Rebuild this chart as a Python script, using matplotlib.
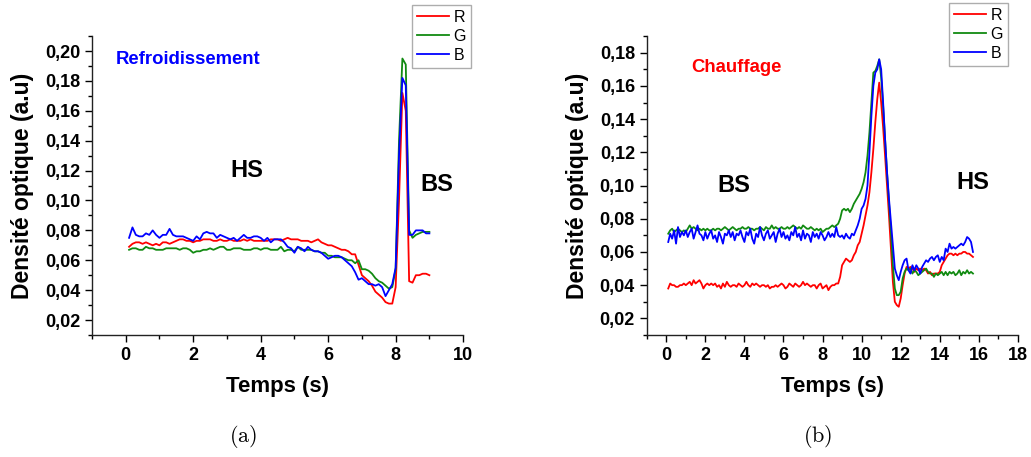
import numpy as np
import matplotlib
matplotlib.use('Agg')
import matplotlib.pyplot as plt
from matplotlib.ticker import FuncFormatter, MultipleLocator

plt.rcParams['font.family'] = ['Liberation Sans', 'DejaVu Sans']
plt.rcParams['mathtext.fontset'] = 'cm'

# (a) refroidissement : t = 0.1 ... 9.0 s
t_a = np.round(np.linspace(0.1, 9.0, 90), 1)
red_a = [0.069, 0.071, 0.072, 0.072, 0.071, 0.072, 0.071, 0.070, 0.071, 0.070,
         0.072, 0.072, 0.071, 0.072, 0.073, 0.074, 0.074, 0.073, 0.073, 0.072,
         0.073, 0.073, 0.074, 0.074, 0.074, 0.073, 0.073, 0.074, 0.073, 0.073,
         0.074, 0.073, 0.073, 0.073, 0.074, 0.073, 0.074, 0.073, 0.073, 0.073,
         0.073, 0.073, 0.074, 0.074, 0.074, 0.073, 0.074, 0.075, 0.074, 0.074,
         0.074, 0.073, 0.073, 0.073, 0.072, 0.073, 0.074, 0.072, 0.071, 0.070,
         0.070, 0.069, 0.068, 0.067, 0.067, 0.066, 0.064, 0.064, 0.057, 0.050,
         0.048, 0.046, 0.043, 0.039, 0.037, 0.035, 0.032, 0.031, 0.031, 0.042,
         0.100, 0.172, 0.160, 0.046, 0.045, 0.050, 0.050, 0.051, 0.051, 0.050]
green_a = [0.067, 0.068, 0.068, 0.067, 0.067, 0.069, 0.068, 0.068, 0.067, 0.067,
           0.067, 0.068, 0.068, 0.068, 0.068, 0.067, 0.068, 0.068, 0.067, 0.065,
           0.066, 0.066, 0.067, 0.067, 0.068, 0.067, 0.068, 0.069, 0.069, 0.067,
           0.067, 0.068, 0.068, 0.068, 0.067, 0.067, 0.067, 0.068, 0.068, 0.067,
           0.068, 0.068, 0.067, 0.067, 0.067, 0.069, 0.066, 0.067, 0.067, 0.066,
           0.069, 0.067, 0.067, 0.067, 0.067, 0.066, 0.066, 0.065, 0.065, 0.063,
           0.063, 0.062, 0.062, 0.062, 0.061, 0.060, 0.060, 0.058, 0.060, 0.054,
           0.054, 0.053, 0.051, 0.048, 0.046, 0.045, 0.043, 0.041, 0.042, 0.054,
           0.140, 0.195, 0.191, 0.080, 0.075, 0.077, 0.078, 0.079, 0.079, 0.079]
blue_a = [0.075, 0.082, 0.077, 0.076, 0.076, 0.078, 0.077, 0.080, 0.077, 0.075,
          0.077, 0.077, 0.081, 0.077, 0.076, 0.076, 0.076, 0.075, 0.074, 0.073,
          0.076, 0.074, 0.078, 0.079, 0.078, 0.078, 0.075, 0.077, 0.076, 0.075,
          0.074, 0.075, 0.073, 0.075, 0.077, 0.075, 0.075, 0.076, 0.076, 0.075,
          0.073, 0.075, 0.072, 0.074, 0.074, 0.074, 0.072, 0.069, 0.068, 0.065,
          0.069, 0.068, 0.066, 0.069, 0.067, 0.066, 0.066, 0.065, 0.063, 0.061,
          0.062, 0.063, 0.063, 0.062, 0.060, 0.058, 0.056, 0.052, 0.047, 0.048,
          0.046, 0.044, 0.044, 0.043, 0.044, 0.042, 0.036, 0.040, 0.044, 0.055,
          0.130, 0.182, 0.177, 0.077, 0.077, 0.080, 0.080, 0.080, 0.078, 0.078]

# (b) chauffage : t = 0.1 ... 15.7 s
t_b = np.round(np.linspace(0.1, 15.7, 157), 1)
red_b = [0.038, 0.041, 0.040, 0.040, 0.039, 0.039, 0.040, 0.040, 0.041, 0.040,
         0.041, 0.042, 0.040, 0.043, 0.041, 0.042, 0.043, 0.041, 0.038, 0.040,
         0.041, 0.040, 0.041, 0.040, 0.041, 0.039, 0.040, 0.038, 0.041, 0.039,
         0.042, 0.040, 0.039, 0.040, 0.040, 0.039, 0.041, 0.040, 0.039, 0.040,
         0.042, 0.040, 0.039, 0.041, 0.040, 0.041, 0.040, 0.039, 0.040, 0.040,
         0.039, 0.040, 0.038, 0.039, 0.039, 0.040, 0.039, 0.040, 0.041, 0.040,
         0.038, 0.039, 0.041, 0.040, 0.039, 0.041, 0.040, 0.039, 0.040, 0.042,
         0.040, 0.041, 0.040, 0.039, 0.040, 0.040, 0.038, 0.040, 0.041, 0.038,
         0.039, 0.040, 0.037, 0.039, 0.040, 0.040, 0.041, 0.041, 0.045, 0.052,
         0.054, 0.056, 0.055, 0.054, 0.055, 0.058, 0.060, 0.064, 0.066, 0.071,
         0.076, 0.082, 0.088, 0.096, 0.108, 0.122, 0.138, 0.152, 0.162, 0.150,
         0.135, 0.118, 0.100, 0.082, 0.062, 0.042, 0.030, 0.028, 0.027, 0.032,
         0.040, 0.047, 0.051, 0.050, 0.051, 0.050, 0.048, 0.050, 0.049, 0.050,
         0.049, 0.050, 0.049, 0.047, 0.048, 0.046, 0.047, 0.047, 0.047, 0.048,
         0.052, 0.054, 0.056, 0.058, 0.059, 0.059, 0.058, 0.059, 0.058, 0.059,
         0.059, 0.060, 0.060, 0.059, 0.059, 0.058, 0.057]
green_b = [0.071, 0.073, 0.074, 0.072, 0.073, 0.074, 0.073, 0.072, 0.073, 0.072,
           0.074, 0.076, 0.074, 0.075, 0.074, 0.073, 0.074, 0.073, 0.074, 0.073,
           0.074, 0.073, 0.073, 0.074, 0.073, 0.074, 0.074, 0.073, 0.074, 0.075,
           0.074, 0.073, 0.074, 0.075, 0.074, 0.073, 0.074, 0.074, 0.075, 0.074,
           0.074, 0.075, 0.074, 0.074, 0.073, 0.074, 0.074, 0.075, 0.074, 0.073,
           0.075, 0.074, 0.074, 0.076, 0.074, 0.075, 0.074, 0.074, 0.075, 0.074,
           0.074, 0.075, 0.074, 0.075, 0.076, 0.075, 0.074, 0.075, 0.074, 0.076,
           0.075, 0.074, 0.074, 0.075, 0.074, 0.073, 0.074, 0.073, 0.074, 0.072,
           0.073, 0.074, 0.074, 0.075, 0.076, 0.075, 0.076, 0.077, 0.080, 0.085,
           0.086, 0.085, 0.086, 0.084, 0.086, 0.089, 0.091, 0.093, 0.095, 0.098,
           0.102, 0.108, 0.118, 0.132, 0.150, 0.168, 0.169, 0.172, 0.176, 0.165,
           0.148, 0.128, 0.108, 0.090, 0.072, 0.052, 0.038, 0.034, 0.034, 0.036,
           0.044, 0.048, 0.050, 0.049, 0.050, 0.047, 0.049, 0.048, 0.046, 0.047,
           0.048, 0.049, 0.050, 0.048, 0.047, 0.047, 0.045, 0.047, 0.046, 0.047,
           0.048, 0.046, 0.048, 0.046, 0.048, 0.047, 0.048, 0.046, 0.047, 0.049,
           0.046, 0.048, 0.047, 0.049, 0.047, 0.048, 0.047]
blue_b = [0.066, 0.071, 0.068, 0.073, 0.065, 0.075, 0.069, 0.072, 0.070, 0.073,
          0.069, 0.072, 0.074, 0.068, 0.072, 0.076, 0.071, 0.070, 0.067, 0.072,
          0.068, 0.071, 0.073, 0.068, 0.070, 0.066, 0.072, 0.069, 0.065, 0.071,
          0.070, 0.073, 0.069, 0.072, 0.067, 0.071, 0.070, 0.073, 0.069, 0.066,
          0.072, 0.070, 0.074, 0.068, 0.065, 0.071, 0.069, 0.075, 0.070, 0.067,
          0.071, 0.073, 0.068, 0.070, 0.072, 0.066, 0.071, 0.074, 0.069, 0.072,
          0.068, 0.070, 0.067, 0.072, 0.070, 0.075, 0.069, 0.071, 0.067, 0.073,
          0.068, 0.071, 0.070, 0.066, 0.072, 0.069, 0.071, 0.068, 0.072, 0.070,
          0.067, 0.069, 0.072, 0.069, 0.071, 0.069, 0.075, 0.070, 0.069, 0.070,
          0.068, 0.071, 0.069, 0.068, 0.071, 0.070, 0.073, 0.076, 0.080, 0.086,
          0.088, 0.092, 0.100, 0.120, 0.142, 0.160, 0.168, 0.170, 0.176, 0.170,
          0.150, 0.128, 0.108, 0.092, 0.078, 0.064, 0.050, 0.046, 0.043, 0.048,
          0.052, 0.055, 0.056, 0.049, 0.047, 0.052, 0.049, 0.052, 0.050, 0.047,
          0.051, 0.053, 0.055, 0.054, 0.056, 0.057, 0.055, 0.057, 0.058, 0.054,
          0.057, 0.055, 0.062, 0.060, 0.065, 0.062, 0.063, 0.062, 0.063, 0.064,
          0.065, 0.064, 0.066, 0.069, 0.068, 0.066, 0.060]

RED, GREEN, BLUE = '#ff0000', '#118a11', '#0000ff'

fig = plt.figure(figsize=(10.31, 4.57), dpi=100)
ax1 = fig.add_axes([0.0892, 0.267, 0.360, 0.654])
ax2 = fig.add_axes([0.6273, 0.267, 0.360, 0.654])

comma = FuncFormatter(lambda v, p: f'{v:.2f}'.replace('.', ','))


def style(ax, xlim, ylim, xmaj, ymaj):
    ax.set_xlim(*xlim)
    ax.set_ylim(*ylim)
    ax.spines['top'].set_visible(False)
    ax.spines['right'].set_visible(False)
    for s in ('left', 'bottom'):
        ax.spines[s].set_linewidth(1.0)
        ax.spines[s].set_color('#222222')
    ax.xaxis.set_major_locator(MultipleLocator(xmaj))
    ax.xaxis.set_minor_locator(MultipleLocator(xmaj / 2))
    ax.yaxis.set_major_locator(MultipleLocator(ymaj))
    ax.yaxis.set_minor_locator(MultipleLocator(ymaj / 2))
    ax.yaxis.set_major_formatter(comma)
    ax.tick_params(which='major', length=5, width=1, labelsize=13)
    ax.tick_params(which='minor', length=3, width=1)
    for lab in ax.get_xticklabels() + ax.get_yticklabels():
        lab.set_fontweight('bold')
    ax.set_xlabel('Temps (s)', fontsize=16, fontweight='bold', labelpad=9)
    ax.set_ylabel('Densité optique (a.u)', fontsize=16.5, fontweight='bold', labelpad=8)


# panel (a)
ax1.plot(t_a, red_a, color=RED, lw=1.3, label='R')
ax1.plot(t_a, green_a, color=GREEN, lw=1.3, label='G')
ax1.plot(t_a, blue_a, color=BLUE, lw=1.3, label='B')
style(ax1, (-1, 10), (0.01, 0.21), 2, 0.02)
ax1.text(-0.3, 0.1945, 'Refroidissement', color=BLUE, fontsize=13.3, fontweight='bold', va='center')
ax1.text(3.58, 0.120, 'HS', fontsize=17, fontweight='bold', ha='center', va='center')
ax1.text(9.23, 0.1108, 'BS', fontsize=17, fontweight='bold', ha='center', va='center')

# panel (b)
ax2.plot(t_b, red_b, color=RED, lw=1.3, label='R')
ax2.plot(t_b, green_b, color=GREEN, lw=1.3, label='G')
ax2.plot(t_b, blue_b, color=BLUE, lw=1.3, label='B')
style(ax2, (-1, 18), (0.01, 0.19), 2, 0.02)
ax2.text(3.58, 0.171, 'Chauffage', color=RED, fontsize=13.3, fontweight='bold', ha='center', va='center')
ax2.text(3.47, 0.100, 'BS', fontsize=17, fontweight='bold', ha='center', va='center')
ax2.text(15.69, 0.102, 'HS', fontsize=17, fontweight='bold', ha='center', va='center')

for ax, (x1, y1) in ((ax1, (471, 5)), (ax2, (1008, 3))):
    leg = ax.legend(loc='upper right', bbox_to_anchor=(x1 / 1031, 1 - y1 / 457),
                    bbox_transform=fig.transFigure, fontsize=11.5, frameon=True,
                    fancybox=False, handlelength=2.0, handletextpad=0.3,
                    labelspacing=0.25, borderpad=0.3, borderaxespad=0)
    leg.get_frame().set_edgecolor('#999999')
    leg.get_frame().set_linewidth(1.0)

fig.text(243 / 1031, 1 - 437 / 457, r'$\mathrm{(a)}$', fontsize=16, ha='center', va='center')
fig.text(818 / 1031, 1 - 437 / 457, r'$\mathrm{(b)}$', fontsize=16, ha='center', va='center')

fig.savefig('out.png', dpi=100)
